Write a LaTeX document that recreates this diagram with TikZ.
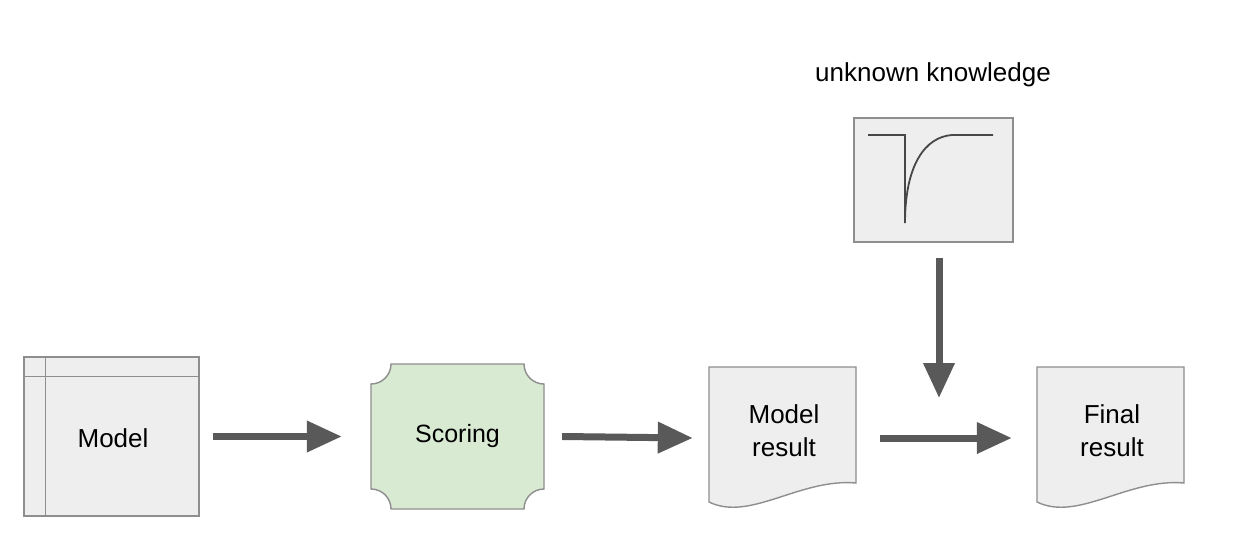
\documentclass[tikz,border=0pt]{standalone}
\usepackage{fontspec}
\setmainfont{Liberation Sans}
\usetikzlibrary{arrows.meta}
\definecolor{boxfill}{HTML}{EEEEEE}
\definecolor{boxline}{HTML}{8E8E8E}
\definecolor{greenfill}{HTML}{D9EAD3}
\definecolor{arrowcol}{HTML}{595959}
\tikzset{
  boxshape/.style={draw=boxline, fill=boxfill, line width=1.4pt},
  txt/.style={font=\fontsize{26}{33}\selectfont, align=center, text=black, inner sep=0pt},
  bigarrow/.style={draw=arrowcol, line width=7pt, -{Triangle[length=35pt,width=30pt]}},
  curve/.style={draw=arrowcol!80!black, line width=1.8pt},
}
\begin{document}
\begin{tikzpicture}[x=1pt,y=-1pt]
\useasboundingbox (0,0) rectangle (1236,557);
% Model
\node[boxshape, minimum width=175pt, minimum height=159pt, inner sep=0pt] (model) at (111.5,436.5) {};
\draw[draw=boxline, line width=1.2pt] ([xshift=22pt]model.north west) -- ([xshift=22pt]model.south west);
\draw[draw=boxline, line width=1.2pt] ([yshift=-20pt]model.north west) -- ([yshift=-20pt]model.north east);
\node[txt] (modeltxt) at (113,438) {Model};
% Scoring
\draw[boxshape, fill=greenfill] (391,364) -- (524,364) arc[start angle=180,end angle=90,radius=20]
  -- (544,489) arc[start angle=270,end angle=180,radius=20]
  -- (391,509) arc[start angle=360,end angle=270,radius=20]
  -- (371,384) arc[start angle=90,end angle=0,radius=20] -- cycle;
\node[txt, minimum width=173pt, minimum height=145pt] (scoring) at (457.5,436.5) {\fontsize{25}{30}\selectfont Scoring};
% Model result document
\draw[boxshape] (709,367) -- (856,367) -- (856,483) .. controls (800,478) and (750,522) .. (709,502) -- cycle;
\node[txt, minimum width=147pt, minimum height=142pt] (mres) at (782.5,438) {};
\node[txt] (mrestxt) at (784,431) {Model\\result};
% Final result document
\draw[boxshape] (1037,367) -- (1184,367) -- (1184,483) .. controls (1128,478) and (1078,522) .. (1037,502) -- cycle;
\node[txt, minimum width=147pt, minimum height=142pt] (fres) at (1110.5,438) {};
\node[txt] (frestxt) at (1112,431) {Final\\result};
% Unknown knowledge
\node[boxshape, minimum width=159pt, minimum height=124pt, inner sep=0pt] (unk) at (933.5,180) {};
\draw[curve] (868,135) -- (905,135) -- (905,223) .. controls (905,165) and (925,137) .. (952,135) -- (993,135);
\node[txt] (unklabel) at (933,75) {unknown knowledge};
\coordinate (downend) at (939,398);
% Arrows
\draw[bigarrow] ([xshift=13pt]model.east) -- ([xshift=-29pt]scoring.west);
\draw[bigarrow] ([xshift=18pt]scoring.east) -- ([xshift=-16pt]mres.west);
\draw[bigarrow] ([xshift=24pt]mres.east) -- ([xshift=-25pt]fres.west);
\draw[bigarrow] (unk.south -| downend) ++(0,15) -- (downend);
\end{tikzpicture}
\end{document}
